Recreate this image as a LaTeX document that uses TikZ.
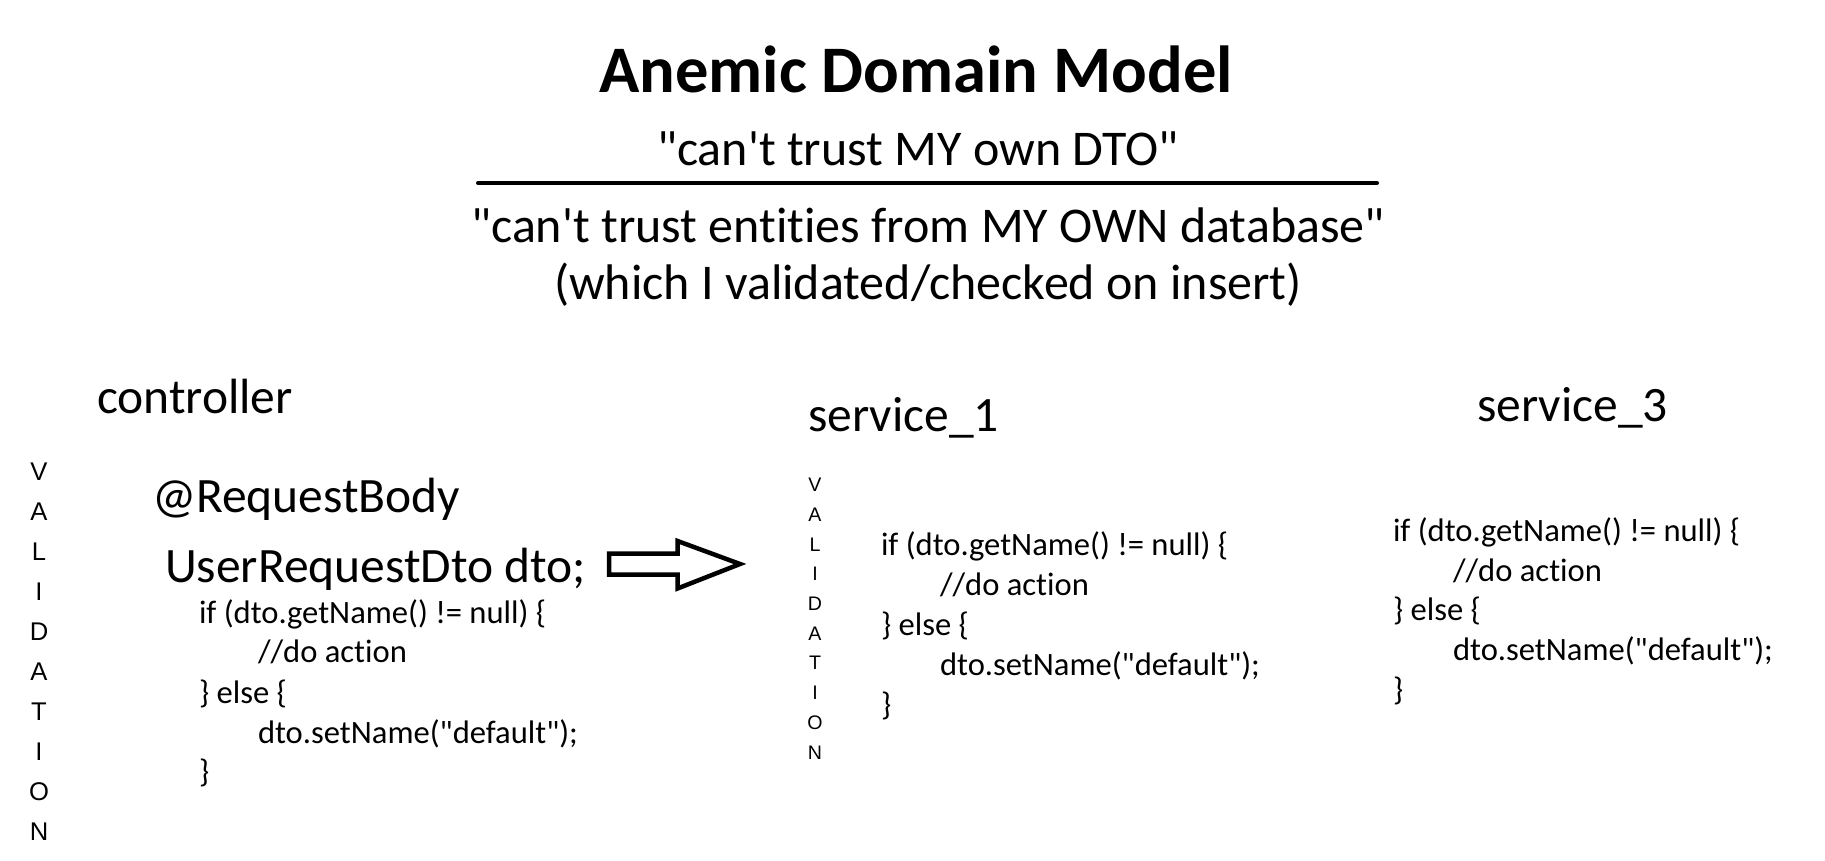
\documentclass[tikz,border=0pt]{standalone}
\usepackage{fontspec}
\defaultfontfeatures{}
\defaultfontfeatures[\rmfamily]{}
\setmainfont{Carlito}[Ligatures=NoCommon]
\newfontfamily\valfont{Liberation Sans}
\begin{document}
\begin{tikzpicture}[x=1pt,y=-1pt,
  every node/.style={inner sep=0pt,outer sep=0pt},
  ttl/.style={anchor=base,font=\fontsize{66.5}{80}\selectfont\bfseries},
  sub/.style={anchor=base,font=\fontsize{50}{61}\selectfont},
  hd/.style={anchor=base west,font=\fontsize{49.5}{60}\selectfont},
  cd/.style={anchor=base west,font=\fontsize{32.6}{40}\selectfont},
  vbig/.style={anchor=base,align=center,font=\valfont\fontsize{25.6}{40}\selectfont},
  vsmall/.style={anchor=base,align=center,font=\valfont\fontsize{19.6}{29.7}\selectfont},
  arrowbox/.style={draw=black,fill=white,line width=4.5pt,line join=miter}
]
\useasboundingbox (0,0) rectangle (1825,861);

% header
\node[ttl] (title) at (916,93) {Anemic Domain Model};
\node[sub] (s1) at (918,166) {"can't trust MY own DTO"};
\coordinate (rl) at (478,183);
\coordinate (rr) at (1377,183);
\draw[line width=4pt,line cap=round] (rl) -- (rr);
\node[sub] (s2) at (928,242) {"can't trust entities from MY OWN database"};
\node[sub] (s3) at (928,299) {(which I validated/checked on insert)};

% left column
\node[vbig] (v1) at (39,840) {V\\A\\L\\I\\D\\A\\T\\I\\O\\N};
\node[hd] (ctrl) at (97,413) {controller};
\node[hd] (rb) at (152,512) {@RequestBody};
\node[hd] (dto) at (165,582) {UserRequestDto dto;};
\node[cd] (a1) at (199,623) {if (dto.getName() != null) \{};
\node[cd] (a2) at (258,662) {//do action};
\node[cd] (a3) at (199,703) {\} else \{};
\node[cd] (a4) at (258,743) {dto.setName("default");};
\node[cd] (a5) at (199,782) {\}};

% arrow
\draw[arrowbox] (609,553.5) -- (677.5,553.5) -- (677.5,541) -- (740,564)
  -- (677.5,588.5) -- (677.5,574.5) -- (609,574.5) -- cycle;

% service_1
\node[hd] (sv1) at (808,431) {service\_1};
\node[vsmall] (v2) at (815,759) {V\\A\\L\\I\\D\\A\\T\\I\\O\\N};
\node[cd] (b1) at (881,555) {if (dto.getName() != null) \{};
\node[cd] (b2) at (940,595) {//do action};
\node[cd] (b3) at (881,635) {\} else \{};
\node[cd] (b4) at (940,675) {dto.setName("default");};
\node[cd] (b5) at (881,715) {\}};

% service_3
\node[hd] (sv3) at (1477,421) {service\_3};
\node[cd] (c1) at (1393,541) {if (dto.getName() != null) \{};
\node[cd] (c2) at (1453,581) {//do action};
\node[cd] (c3) at (1393,620) {\} else \{};
\node[cd] (c4) at (1453,660) {dto.setName("default");};
\node[cd] (c5) at (1393,700) {\}};
\end{tikzpicture}
\end{document}
